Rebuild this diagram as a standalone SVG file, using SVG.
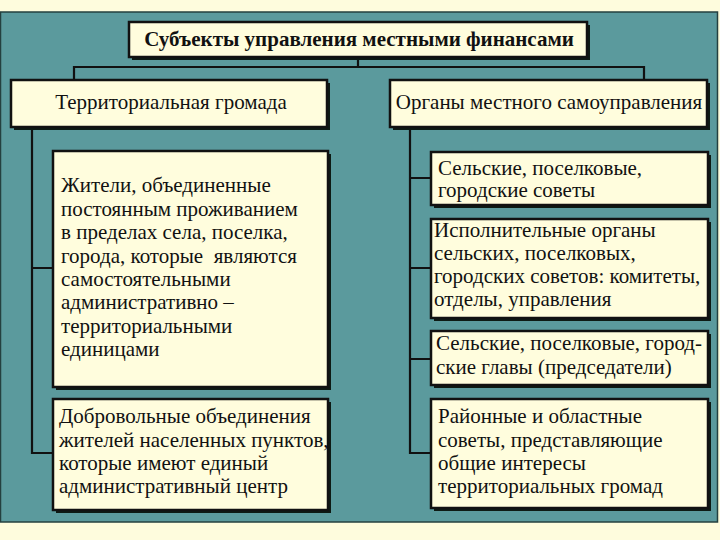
<svg xmlns="http://www.w3.org/2000/svg" width="720" height="540" viewBox="0 0 720 540">
<defs>
<style>
.box{fill:#fffddd;stroke:#111;stroke-width:2.5}
.sh{fill:#0d1a14}
.ln{fill:none;stroke:#111;stroke-width:2.2}
text{font-family:"Liberation Serif","Times New Roman",serif;font-size:21px;fill:#111}
.b{font-weight:bold}
.c{text-anchor:middle}
</style>
</defs>
<rect x="0" y="0" width="720" height="540" fill="#fefcdd"/>
<rect x="0.5" y="12" width="717" height="510" fill="#5b9a9d" stroke="#24403f" stroke-width="1.5"/>
<g id="connectors">
<path class="ln" d="M358 57V67M74 80V67H644V80"/>
<path class="ln" d="M32 127V453H53M32 268H53"/>
<path class="ln" d="M410 127V453H431M410 178H431M410 268H431M410 359H431"/>
</g>
<g id="title">
<rect class="sh" x="132" y="25" width="458" height="35"/>
<rect class="box" x="129" y="22" width="458" height="35"/>
<text class="b c" x="359" y="46">Субъекты управления местными финансами</text>
</g>
<g id="hdr-left">
<rect class="sh" x="14" y="83" width="316" height="47"/>
<rect class="box" x="11" y="80" width="316" height="47"/>
<text class="c" x="171" y="109">Территориальная громада</text>
</g>
<g id="hdr-right">
<rect class="sh" x="393" y="83" width="317" height="47"/>
<rect class="box" x="390" y="80" width="317" height="47"/>
<text class="c" x="549" y="109">Органы местного самоуправления</text>
</g>
<g id="left1">
<rect class="sh" x="56" y="154" width="275" height="236"/>
<rect class="box" x="53" y="151" width="275" height="236"/>
<text x="61" y="192">Жители, объединенные</text>
<text x="61" y="216">постоянным проживанием</text>
<text x="61" y="239">в пределах села, поселка,</text>
<text x="61" y="263" xml:space="preserve">города, которые  являются</text>
<text x="61" y="286">самостоятельными</text>
<text x="61" y="309">административно –</text>
<text x="61" y="333">территориальными</text>
<text x="61" y="356">единицами</text>
</g>
<g id="left2">
<rect class="sh" x="56" y="402" width="275" height="111"/>
<rect class="box" x="53" y="399" width="275" height="111"/>
<text x="59" y="423">Добровольные объединения</text>
<text x="59" y="447">жителей населенных пунктов,</text>
<text x="59" y="470">которые имеют единый</text>
<text x="59" y="493">административный центр</text>
</g>
<g id="right1">
<rect class="sh" x="434" y="155" width="277" height="53"/>
<rect class="box" x="431" y="152" width="277" height="53"/>
<text x="438" y="175">Сельские, поселковые,</text>
<text x="438" y="197">городские советы</text>
</g>
<g id="right2">
<rect class="sh" x="434" y="222" width="277" height="99"/>
<rect class="box" x="431" y="219" width="277" height="99"/>
<text x="434" y="237">Исполнительные органы</text>
<text x="434" y="260">сельских, поселковых,</text>
<text x="434" y="283">городских советов: комитеты,</text>
<text x="434" y="306">отделы, управления</text>
</g>
<g id="right3">
<rect class="sh" x="434" y="334" width="277" height="54"/>
<rect class="box" x="431" y="331" width="277" height="54"/>
<text x="436" y="350">Сельские, поселковые, город-</text>
<text x="436" y="374">ские главы (председатели)</text>
</g>
<g id="right4">
<rect class="sh" x="434" y="402" width="277" height="109"/>
<rect class="box" x="431" y="399" width="277" height="109"/>
<text x="438" y="423">Районные и областные</text>
<text x="438" y="447">советы, представляющие</text>
<text x="438" y="470">общие интересы</text>
<text x="438" y="493">территориальных громад</text>
</g>
</svg>
